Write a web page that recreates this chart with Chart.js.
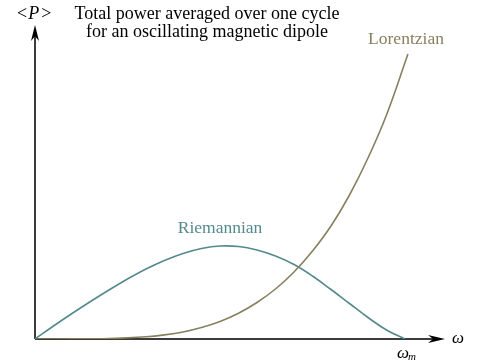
<!DOCTYPE html>
<html>
<head>
<meta charset="utf-8">
<script src="https://cdn.jsdelivr.net/npm/chart.js@4/dist/chart.umd.min.js"></script>
<style>
html,body{margin:0;padding:0;background:#fff;}
#wrap{width:480px;height:360px;position:relative;}
</style>
</head>
<body>
<div id="wrap"><canvas id="c" width="480" height="360"></canvas></div>
<script>
// omega / omega_m
const omegaR = [0,0.05,0.1,0.15,0.2,0.25,0.3,0.35,0.4,0.45,0.5,0.55,0.6,0.65,0.7,0.75,0.8,0.85,0.9,0.95,1.0];
const riemannian = [0,13,25.5,37.5,49,60,70,78.5,85.5,90.5,93,92.5,89,83,74.5,63,49.5,35.5,21.5,9,0];
const omegaL = [0,0.1,0.2,0.3,0.35,0.4,0.45,0.5,0.55,0.6,0.65,0.7,0.75,0.8,0.85,0.9,0.95,1.008];
const lorentzian = [0,0.1,0.5,2.2,4.1,7,11.4,17.5,25.8,36.5,50,67,88,113,144,181,224,285];
const seriesNames = ['Riemannian','Lorentzian'];
const titleLines = ['Total power averaged over one cycle','for an oscillating magnetic dipole'];

const colR = '#558a8d';
const colL = '#86805f';
const axisCol = '#3c3c3c';
const serif = '"Liberation Serif", "DejaVu Serif", serif';

function arrow(ctx, tipX, tipY, dir, len, half){
  ctx.beginPath();
  if(dir==='right'){
    ctx.moveTo(tipX, tipY);
    ctx.lineTo(tipX-len, tipY-half);
    ctx.lineTo(tipX-len*0.7, tipY);
    ctx.lineTo(tipX-len, tipY+half);
  } else {
    ctx.moveTo(tipX, tipY);
    ctx.lineTo(tipX-half, tipY+len);
    ctx.lineTo(tipX, tipY+len*0.7);
    ctx.lineTo(tipX+half, tipY+len);
  }
  ctx.closePath();
  ctx.fill();
}

const decor = {
  id:'decor',
  beforeDatasetsDraw(chart){
    const {ctx, chartArea:a, scales:{x,y}} = chart;
    const x0 = x.getPixelForValue(0), y0 = y.getPixelForValue(0);
    ctx.save();
    ctx.strokeStyle = axisCol; ctx.fillStyle = axisCol; ctx.lineWidth = 2;
    ctx.beginPath();
    ctx.moveTo(x0, y0); ctx.lineTo(a.right-8, y0);
    ctx.moveTo(x0, y0); ctx.lineTo(x0, a.top+8);
    ctx.stroke();
    ctx.fillStyle = '#000';
    arrow(ctx, a.right, y0, 'right', 17, 4);
    arrow(ctx, x0, a.top, 'up', 16, 4);
    ctx.restore();
  },
  afterDatasetsDraw(chart){
    const {ctx, chartArea:a, scales:{x,y}} = chart;
    const x0 = x.getPixelForValue(0), y0 = y.getPixelForValue(0);
    ctx.save();
    ctx.textBaseline = 'alphabetic';
    // <P>
    ctx.fillStyle = '#000';
    ctx.font = '18px ' + serif;
    ctx.textAlign = 'left';
    let px = 17;
    ctx.fillText('<', px, 19); px += ctx.measureText('<').width + 1;
    ctx.font = 'italic 18px ' + serif;
    ctx.fillText('P', px, 19); px += ctx.measureText('P').width + 2;
    ctx.font = '18px ' + serif;
    ctx.fillText('>', px, 19);
    // title
    ctx.font = '18px ' + serif;
    ctx.textAlign = 'center';
    ctx.fillText(titleLines[0], 207, 19);
    ctx.fillText(titleLines[1], 207, 37);
    // series labels
    ctx.font = '17.5px ' + serif;
    ctx.fillStyle = colL;
    ctx.fillText(seriesNames[1], 406, 44);
    ctx.fillStyle = colR;
    ctx.fillText(seriesNames[0], 220, 233);
    // omega
    ctx.fillStyle = '#000';
    ctx.font = 'italic 17px ' + serif;
    ctx.textAlign = 'left';
    ctx.fillText('ω', a.right + 7, y0 + 4);
    const xm = x.getPixelForValue(1);
    ctx.fillText('ω', xm - 8, y0 + 19);
    ctx.font = 'italic 11px ' + serif;
    ctx.fillText('m', xm + 3, y0 + 21);
    ctx.restore();
  }
};

new Chart(document.getElementById('c'), {
  type:'scatter',
  data:{
    datasets:[
      {label:seriesNames[1], data:omegaL.map((v,i)=>({x:v,y:lorentzian[i]})), showLine:true,
       borderColor:colL, borderWidth:1.6, pointRadius:0, tension:0.4, fill:false},
      {label:seriesNames[0], data:omegaR.map((v,i)=>({x:v,y:riemannian[i]})), showLine:true,
       borderColor:colR, borderWidth:1.6, pointRadius:0, tension:0.4, fill:false}
    ]
  },
  options:{
    responsive:false, animation:false,
    layout:{padding:{left:35, right:35, top:25, bottom:21}},
    plugins:{legend:{display:false}, tooltip:{enabled:false}},
    scales:{
      x:{type:'linear', min:0, max:410/370, display:false},
      y:{type:'linear', min:0, max:314, display:false}
    }
  },
  plugins:[decor]
});
</script>
</body>
</html>
